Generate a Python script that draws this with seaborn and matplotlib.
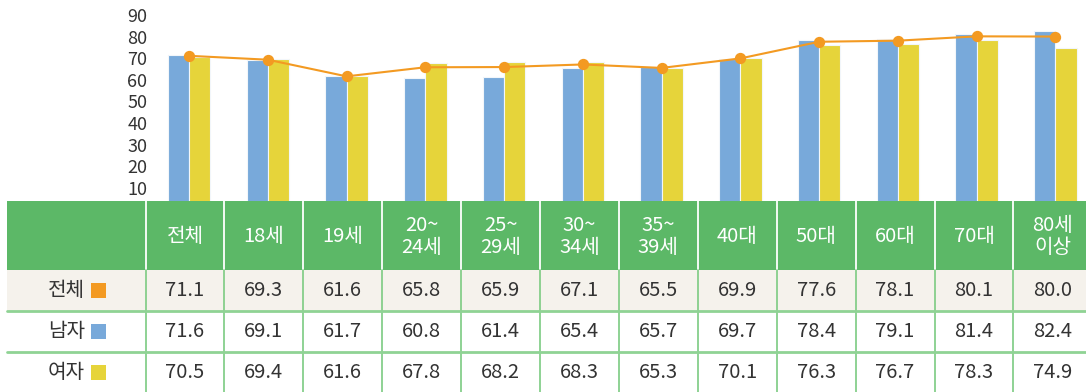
import numpy as np
import pandas as pd
import matplotlib
matplotlib.use("Agg")
import matplotlib.pyplot as plt
from matplotlib.patches import Rectangle
import seaborn as sns

# ---- data -------------------------------------------------------------
categories = ["전체", "18세", "19세", "20~\n24세", "25~\n29세", "30~\n34세",
              "35~\n39세", "40대", "50대", "60대", "70대", "80세\n이상"]
total = [71.1, 69.3, 61.6, 65.8, 65.9, 67.1, 65.5, 69.9, 77.6, 78.1, 80.1, 80.0]
male = [71.6, 69.1, 61.7, 60.8, 61.4, 65.4, 65.7, 69.7, 78.4, 79.1, 81.4, 82.4]
female = [70.5, 69.4, 61.6, 67.8, 68.2, 68.3, 65.3, 70.1, 76.3, 76.7, 78.3, 74.9]
row_names = ["전체", "남자", "여자"]
y_ticks = [10, 20, 30, 40, 50, 60, 70, 80, 90]

# ---- style ------------------------------------------------------------
C_TOTAL = "#F39A22"
C_MALE = "#78A9DA"
C_FEMALE = "#E6D43A"
C_GREEN = "#5CB867"
C_BEIGE = "#F5F2EC"
C_RULE = "#8FD394"
C_TEXT = "#333333"

sns.set_theme(style="white")
FONT = ["Noto Sans CJK KR", "DejaVu Sans"]
plt.rcParams["font.family"] = FONT

W, H = 1086, 392
fig = plt.figure(figsize=(W / 100, H / 100), dpi=100)

# ---- chart --------------------------------------------------------------
ax_left, ax_right, ax_top, ax_bottom = 150, 1086, 0, 201
ax = fig.add_axes([ax_left / W, (H - ax_bottom) / H,
                   (ax_right - ax_left) / W, (ax_bottom - ax_top) / H])

bars = pd.DataFrame({
    "cat": categories * 2,
    "val": male + female,
    "sex": ["남자"] * len(categories) + ["여자"] * len(categories),
})
sns.barplot(data=bars, x="cat", y="val", hue="sex", order=categories,
            hue_order=["남자", "여자"], palette=[C_MALE, C_FEMALE],
            saturation=1, width=0.54, edgecolor="#F2F6FA", linewidth=0.8,
            legend=False, errorbar=None, ax=ax)

line = pd.DataFrame({"cat": categories, "val": total})
sns.pointplot(data=line, x="cat", y="val", order=categories, color=C_TOTAL,
              markers="o", markersize=7, linewidth=1.5, errorbar=None, ax=ax)

first_x, step = 189, 78.77
ax.set_xlim(-(first_x - ax_left) / step, 11 + (ax_right - 1055.5) / step)
ax.set_ylim(3.98, 96.9)
ax.set_yticks(y_ticks)
ax.set_yticklabels([str(t) for t in y_ticks], fontsize=13, color=C_TEXT)
ax.tick_params(axis="y", length=0, pad=2)
ax.set_xticks([])
ax.set_xlabel("")
ax.set_ylabel("")
for s in ax.spines.values():
    s.set_visible(False)
ax.patch.set_alpha(0)

# ---- data table ---------------------------------------------------------
tab = fig.add_axes([0, 0, 1, 1])
tab.set_xlim(0, W)
tab.set_ylim(H, 0)
tab.axis("off")
tab.patch.set_alpha(0)

x0, col0, colw = 7, 145.5, 78.9
head_top, head_bot = 201, 270
row_h = 41
row_tops = [head_bot + i * row_h for i in range(3)]
n = len(categories)
x_end = col0 + n * colw

tab.add_patch(Rectangle((x0, head_top), x_end - x0, head_bot - head_top,
                        facecolor=C_GREEN, edgecolor="none"))
tab.add_patch(Rectangle((x0, row_tops[0]), x_end - x0, row_h,
                        facecolor=C_BEIGE, edgecolor="none"))

for i in range(n + 1):
    xb = col0 + i * colw
    tab.plot([xb, xb], [head_top, head_bot], color="white", lw=1.3)
    tab.plot([xb, xb], [head_bot, H + 2], color="#7CCB82", lw=1.2)
for yt in row_tops[1:]:
    tab.plot([x0, x_end], [yt, yt], color=C_RULE, lw=2.0)

for i, cat in enumerate(categories):
    cx = col0 + (i + 0.5) * colw
    tab.text(cx, 236.5, cat, ha="center", va="center", color="white",
             fontsize=14.5, linespacing=1.1, family=FONT)

series = [total, male, female]
swatch = [C_TOTAL, C_MALE, C_FEMALE]
for r, (name, vals, col) in enumerate(zip(row_names, series, swatch)):
    cy = row_tops[r] + row_h / 2
    tab.text(85, cy, name, ha="right", va="center", color=C_TEXT,
             fontsize=14.5, family=FONT)
    tab.add_patch(Rectangle((91, cy - 7.5), 15, 15, facecolor=col,
                            edgecolor="none"))
    for i, v in enumerate(vals):
        cx = col0 + (i + 0.5) * colw
        tab.text(cx, cy, f"{v:.1f}", ha="center", va="center",
                 color=C_TEXT, fontsize=14.5, family=FONT)

fig.savefig("out.png", dpi=100)
